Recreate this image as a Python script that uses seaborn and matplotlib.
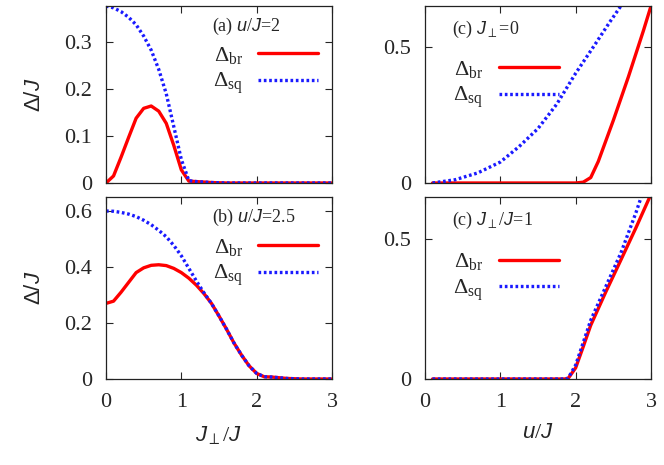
import matplotlib
matplotlib.use("Agg")
import matplotlib.pyplot as plt
import seaborn as sns
from matplotlib.ticker import FormatStrFormatter, MultipleLocator

# (a) u/J = 2, x = J_perp/J
jp_a = [0, 0.1, 0.2, 0.3, 0.4, 0.5, 0.6, 0.7, 0.8, 0.9, 1.0, 1.1, 1.2, 1.4, 1.6, 2.0, 2.5, 3.0]
br_a = [0, 0.015, 0.055, 0.097, 0.138, 0.159, 0.164, 0.153, 0.127, 0.08, 0.028, 0.004, 0.003, 0.001, 0, 0, 0, 0]
sq_a = [0.377, 0.373, 0.365, 0.353, 0.337, 0.313, 0.283, 0.242, 0.19, 0.12, 0.05, 0.005, 0.003, 0.001, 0, 0, 0, 0]

# (b) u/J = 2.5
jp_b = [0, 0.1, 0.2, 0.3, 0.4, 0.5, 0.6, 0.7, 0.8, 0.9, 1.0, 1.1, 1.2, 1.3, 1.4, 1.5,
        1.6, 1.7, 1.8, 1.9, 2.0, 2.1, 2.2, 2.4, 2.6, 3.0]
br_b = [0.27, 0.278, 0.31, 0.345, 0.38, 0.397, 0.406, 0.408, 0.405, 0.395, 0.38, 0.36, 0.335,
        0.305, 0.27, 0.225, 0.178, 0.128, 0.085, 0.047, 0.02, 0.008, 0.007, 0.002, 0, 0]
sq_b = [0.6, 0.599, 0.595, 0.589, 0.58, 0.567, 0.551, 0.531, 0.508, 0.477, 0.44, 0.395, 0.35,
        0.308, 0.27, 0.225, 0.178, 0.128, 0.085, 0.047, 0.02, 0.008, 0.007, 0.002, 0, 0]

# (c) J_perp = 0, x = u/J
u_c0_br = [0.1, 0.5, 1.0, 1.5, 2.0, 2.1, 2.2, 2.3, 2.5, 2.7, 2.9, 3.0]
br_c0 = [0, 0, 0, 0, 0, 0.003, 0.02, 0.079, 0.23, 0.39, 0.56, 0.65]
u_c0_sq = [0.1, 0.4, 0.7, 1.0, 1.25, 1.5, 1.75, 2.0, 2.25, 2.45, 2.6]
sq_c0 = [0, 0.012, 0.037, 0.077, 0.134, 0.2, 0.29, 0.403, 0.506, 0.59, 0.65]

# (c) J_perp/J = 1
u_c1_br = [0.1, 0.5, 1.0, 1.5, 1.85, 1.9, 2.0, 2.1, 2.2, 2.4, 2.6, 2.8, 3.0]
br_c1 = [0, 0, 0, 0, 0, 0.002, 0.04, 0.115, 0.192, 0.311, 0.425, 0.54, 0.66]
u_c1_sq = [0.1, 0.5, 1.0, 1.5, 1.85, 1.9, 2.0, 2.1, 2.2, 2.4, 2.6, 2.8, 2.87]
sq_c1 = [0, 0, 0, 0, 0, 0.003, 0.05, 0.13, 0.21, 0.33, 0.45, 0.594, 0.65]

sns.set_theme(style="ticks")
plt.rcParams["font.family"] = ["Liberation Serif", "DejaVu Sans"]
plt.rcParams["mathtext.fontset"] = "custom"
plt.rcParams["mathtext.rm"] = "Liberation Serif"
plt.rcParams["mathtext.it"] = "Liberation Sans:italic"
plt.rcParams["mathtext.sf"] = "Liberation Sans"

fig = plt.figure(figsize=(6.64, 4.65), dpi=100)
W = 226 / 664
ax_a = fig.add_axes([106 / 664, 1 - 183 / 465, W, 177 / 465])
ax_b = fig.add_axes([106 / 664, 1 - 379 / 465, W, 182 / 465])
ax_c0 = fig.add_axes([425 / 664, 1 - 183 / 465, W, 177 / 465])
ax_c1 = fig.add_axes([425 / 664, 1 - 379 / 465, W, 182 / 465])

red = dict(color="#ff0000", lw=2.4, linestyle="-")
blue = dict(color="#1a1aff", lw=2.4, linestyle=(0, (0.8, 0.8)))
lab_br = r"$\Delta_{\rm br}$"
lab_sq = r"$\Delta_{\rm sq}$"

panels = [
    (ax_a, jp_a, br_a, jp_a, sq_a, r"(a) $\mathit{u/J}$=2", 0.377, 0.1),
    (ax_b, jp_b, br_b, jp_b, sq_b, r"(b) $\mathit{u/J}$=2.5", 0.65, 0.2),
    (ax_c0, u_c0_br, br_c0, u_c0_sq, sq_c0, r"(c) $\mathit{J}_{\perp}$=0", 0.65, 0.5),
    (ax_c1, u_c1_br, br_c1, u_c1_sq, sq_c1, r"(c) $\mathit{J}_{\perp}/\mathit{J}$=1", 0.65, 0.5),
]

leg_kw = dict(frameon=False, markerfirst=False, fontsize=16, handlelength=2.7,
              handletextpad=0.7, labelspacing=0.2, borderpad=0, borderaxespad=0)

for i, (ax, xb, yb, xs, ys, title, ytop, ystep) in enumerate(panels):
    sns.lineplot(x=xb, y=yb, ax=ax, label=lab_br, **red)
    sns.lineplot(x=xs, y=ys, ax=ax, label=lab_sq, **blue)
    ax.set_xlim(0, 3)
    ax.set_ylim(0, ytop)
    ax.xaxis.set_major_locator(MultipleLocator(1))
    ax.yaxis.set_major_locator(MultipleLocator(ystep))
    ax.yaxis.set_major_formatter(FormatStrFormatter("%g"))
    ax.tick_params(direction="in", top=True, right=True, length=5, width=0.8,
                   labelsize=16, pad=10)
    for s in ax.spines.values():
        s.set_linewidth(0.9)
        s.set_color("#222222")
    ax.set_xlabel("")
    ax.set_ylabel("")
    if i % 2 == 0:
        ax.tick_params(labelbottom=False)
    if i < 2:
        ax.text(0.47, 0.885, title, transform=ax.transAxes, fontsize=13, va="center")
        ax.legend(loc="upper right", bbox_to_anchor=(0.94, 0.78), **leg_kw)
        ax.set_ylabel(r"$\mathsf{\Delta/}\mathit{J}$", fontsize=16, labelpad=14)
    else:
        ax.text(0.12, 0.87, title, transform=ax.transAxes, fontsize=13, va="center")
        ax.legend(loc="upper left", bbox_to_anchor=(0.125, 0.7), **leg_kw)

ax_b.set_xlabel(r"$\mathit{J}_{\perp}/\mathit{J}$", fontsize=16, labelpad=9)
ax_c1.set_xlabel(r"$\mathit{u/J}$", fontsize=16, labelpad=9)

fig.savefig("out.png", dpi=100)
